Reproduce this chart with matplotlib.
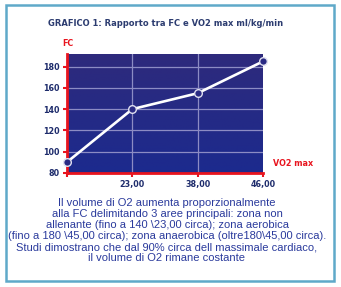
import numpy as np
import matplotlib
matplotlib.use("Agg")
import matplotlib.pyplot as plt
from matplotlib.patches import Rectangle
from matplotlib.colors import LinearSegmentedColormap

# Data
x_labels = ["", "23,00", "38,00", "46,00"]
fc_values = [90, 140, 155, 185]
y_ticks = [80, 100, 120, 140, 160, 180]

title = "GRAFICO 1: Rapporto tra FC e VO2 max ml/kg/min"
caption = ("Il volume di O2 aumenta proporzionalmente\n"
           "alla FC delimitando 3 aree principali: zona non\n"
           "allenante (fino a 140 \\23,00 circa); zona aerobica\n"
           "(fino a 180 \\45,00 circa); zona anaerobica (oltre180\\45,00 circa).\n"
           "Studi dimostrano che dal 90% circa dell massimale cardiaco,\n"
           "il volume di O2 rimane costante")

plt.rcParams['font.family'] = ['DejaVu Sans']

W, H = 341, 287
fig = plt.figure(figsize=(W / 100, H / 100), dpi=100)
fig.patch.set_facecolor("white")

# outer border
fig.add_artist(Rectangle((6 / W, 1 - 281 / H), (334 - 6) / W, (281 - 5) / H,
                         transform=fig.transFigure, fill=False,
                         edgecolor="#5fa9c9", linewidth=1.8))

left, right, top, bottom = 67, 263, 54, 172.7
ax = fig.add_axes([left / W, 1 - bottom / H, (right - left) / W, (bottom - top) / H])

xs = np.arange(len(x_labels))
ax.set_xlim(0, len(x_labels) - 1)
ax.set_ylim(80, 192)

# gradient background
cmap = LinearSegmentedColormap.from_list("bg", ["#2e2a7c", "#1c2a8e"])
grad = np.linspace(0, 1, 256).reshape(-1, 1)
ax.imshow(grad, aspect="auto", cmap=cmap, origin="upper",
          extent=[0, len(x_labels) - 1, 80, 192], zorder=0)

for yv in y_ticks[1:]:
    ax.axhline(yv, color="#8c8cc4", linewidth=0.9, zorder=1)
for xv in xs[1:-1]:
    ax.axvline(xv, color="#8c8cc4", linewidth=0.9, zorder=1)

ax.plot(xs, fc_values, color="white", linewidth=1.9, zorder=5, clip_on=False,
        marker="o", markersize=5.5, markerfacecolor="#2a2a84",
        markeredgecolor="#e0e0f0", markeredgewidth=1.0)

ax.set_xticks(xs)
ax.set_xticklabels(x_labels)
ax.set_yticks(y_ticks)
ax.set_yticklabels([str(v) for v in y_ticks])

for s in ["top", "right"]:
    ax.spines[s].set_visible(False)
for s in ["left", "bottom"]:
    ax.spines[s].set_color("#e8141e")
    ax.spines[s].set_linewidth(2)
    ax.spines[s].set_zorder(4)

ax.tick_params(axis="both", colors="#e8141e", width=1.5, length=3, direction="out",
               labelcolor="#1e2c6c", labelsize=5.8, pad=2.5)
for lab in ax.get_xticklabels() + ax.get_yticklabels():
    lab.set_fontweight("bold")

fig.text(166 / W, 1 - 24 / H, title, ha="center", va="center",
         fontsize=6.0, fontweight="bold", color="#2c3c70")
fig.text(68 / W, 1 - 43 / H, "FC", ha="center", va="center",
         fontsize=5.8, fontweight="bold", color="#e8141e")
fig.text(293 / W, 1 - 164 / H, "VO2 max", ha="center", va="center",
         fontsize=5.8, fontweight="bold", color="#e8141e")

fig.text(167 / W, 1 - 230.5 / H, caption, ha="center", va="center",
         fontsize=8.0, family=["Liberation Sans", "DejaVu Sans"],
         color="#2a3a9c", linespacing=1.14)

fig.savefig("out.png", dpi=100)
